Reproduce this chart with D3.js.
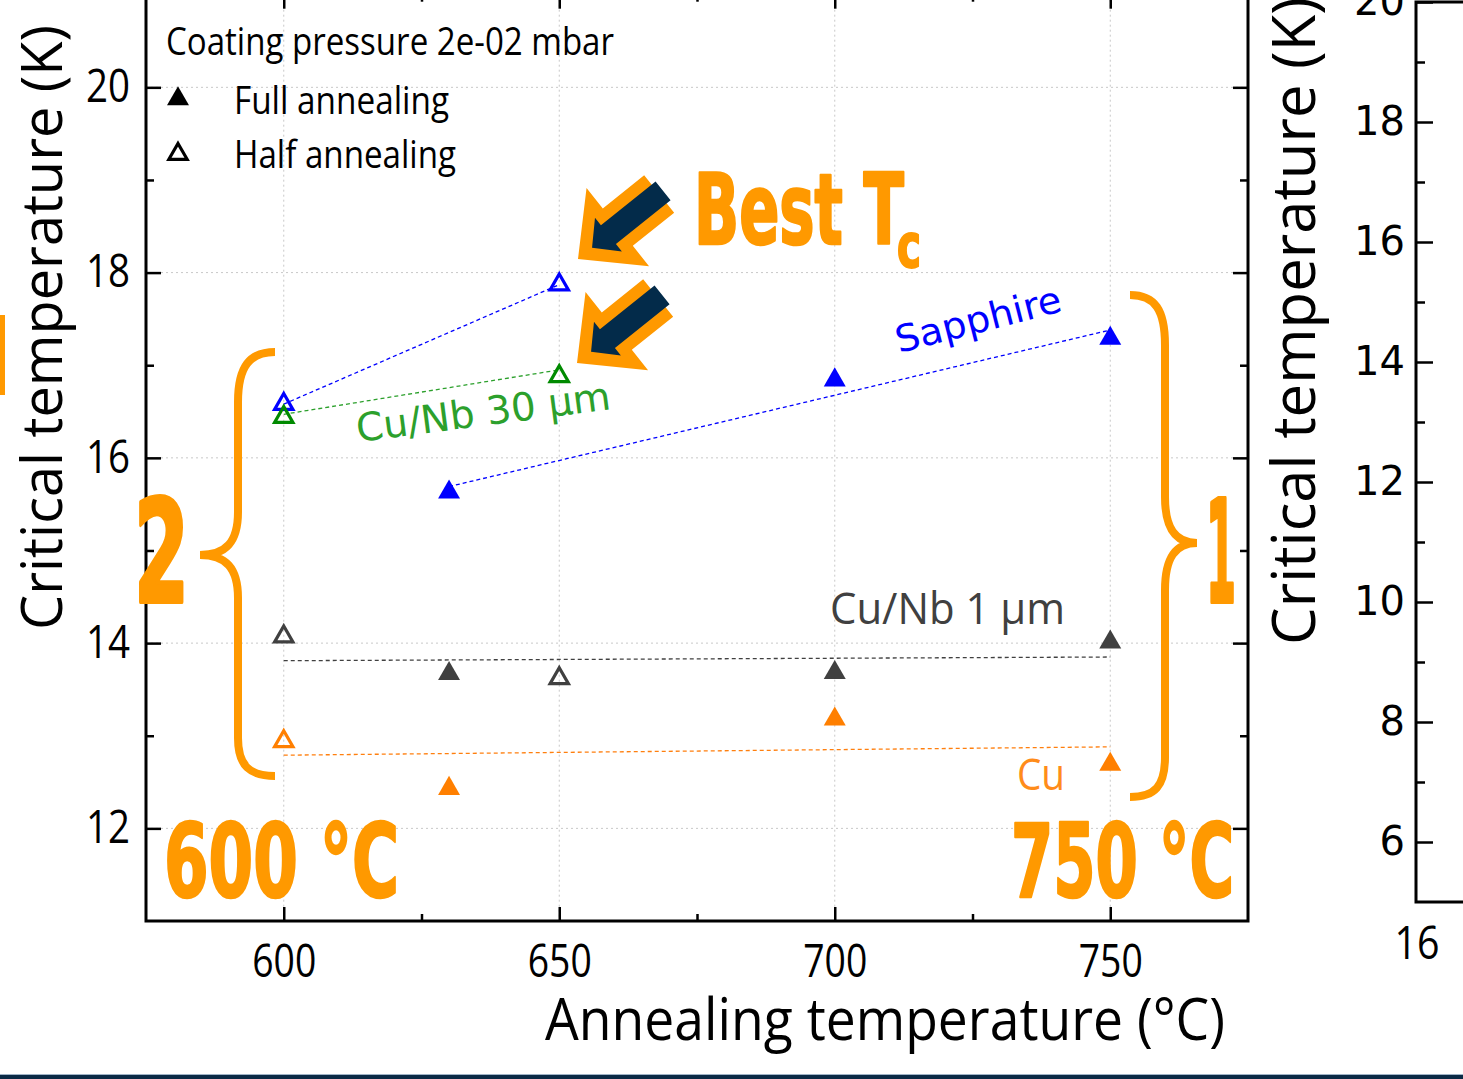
<!DOCTYPE html>
<html lang="en">
<head>
    <meta charset="UTF-8">
    <title>Critical temperature vs annealing temperature</title>
    <script src="https://d3js.org/d3.v7.min.js"></script>
    <style>
        body { margin: 0; background: #fff; }
        svg { display: block; }
    </style>
</head>
<body>
    <script>
        //SVG dimensions
        var w = 1463;
        var h = 1079;

        //Dataset: annealing temperature (°C) and critical temperature (K)
        var sapphireHalfT = [600, 650];
        var sapphireHalfTc = [16.58, 17.87];
        var sapphireFullT = [630, 700, 750];
        var sapphireFullTc = [15.63, 16.84, 17.29];
        var cuNb30HalfT = [600, 650];
        var cuNb30HalfTc = [16.44, 16.88];
        var cuNb1HalfT = [600, 650];
        var cuNb1HalfTc = [14.07, 13.62];
        var cuNb1FullT = [630, 700, 750];
        var cuNb1FullTc = [13.67, 13.68, 14.01];
        var cuHalfT = [600];
        var cuHalfTc = [12.94];
        var cuFullT = [630, 700, 750];
        var cuFullTc = [12.43, 13.18, 12.69];

        //Dashed trend lines (start, end)
        var sapphireHalfFitT = [600, 650];
        var sapphireHalfFitTc = [16.58, 17.87];
        var sapphireFullFitT = [630, 750];
        var sapphireFullFitTc = [15.69, 17.38];
        var cuNb30FitT = [600, 650];
        var cuNb30FitTc = [16.47, 16.95];
        var cuNb1FitT = [600, 750];
        var cuNb1FitTc = [13.81, 13.85];
        var cuFitT = [600, 750];
        var cuFitTc = [12.79, 12.88];

        //Ticks
        var xMajor = [600, 650, 700, 750];
        var xMinor = [625, 675, 725];
        var yMajor = [12, 14, 16, 18, 20];
        var yMinor = [13, 15, 17, 19];
        var y2Major = [6, 8, 10, 12, 14, 16, 18, 20];
        var y2Minor = [7, 9, 11, 13, 15, 17, 19];

        function zip(a, b) { return a.map(function(v, i) { return [v, b[i]]; }); }

        var svg = d3.select("body")
            .append("svg")
            .attr("width", w)
            .attr("height", h);

        //Scales of the main plot
        var xScale = d3.scaleLinear().domain([575, 775]).range([146, 1248]);
        var yScale = d3.scaleLinear().domain([11, 21]).range([921, -5.3]);
        //Scale of the cut-off plot on the right
        var y2Scale = d3.scaleLinear().domain([5, 20]).range([902, 2]);

        var sans = "'Open Sans', sans-serif";
        var dejavu = "'DejaVu Sans', sans-serif";
        var narrow = "'Liberation Sans Narrow', 'DejaVu Sans Condensed', sans-serif";
        var orange = "#ff9900";

        //Grid
        var grid = svg.append("g")
            .attr("stroke", "#c8c8c8")
            .attr("stroke-width", 1)
            .attr("stroke-dasharray", "2,3");
        grid.selectAll("line.gx").data(xMajor).enter().append("line")
            .attr("x1", function(d) { return xScale(d); })
            .attr("x2", function(d) { return xScale(d); })
            .attr("y1", yScale(21)).attr("y2", yScale(11));
        grid.selectAll("line.gy").data(yMajor).enter().append("line")
            .attr("y1", function(d) { return yScale(d); })
            .attr("y2", function(d) { return yScale(d); })
            .attr("x1", xScale(575)).attr("x2", xScale(775));

        //Axes with inward ticks
        function styleTicks(g, size) {
            g.select(".domain").remove();
            g.selectAll(".tick line").attr("stroke", "#000").attr("stroke-width", 2.5);
            g.selectAll("text").attr("fill", "#000").style("font-family", sans).style("font-size", size + "px");
        }

        var gx = svg.append("g").attr("transform", "translate(0," + yScale(11) + ")")
            .call(d3.axisBottom(xScale).tickValues(xMajor).tickSize(-14).tickSizeOuter(0).tickPadding(24));
        styleTicks(gx, 45);
        gx.selectAll("text").attr("textLength", 64).attr("lengthAdjust", "spacingAndGlyphs");
        var gxm = svg.append("g").attr("transform", "translate(0," + yScale(11) + ")")
            .call(d3.axisBottom(xScale).tickValues(xMinor).tickSize(-7).tickFormat(""));
        styleTicks(gxm, 45);

        var gxt = svg.append("g").attr("transform", "translate(0," + yScale(21) + ")")
            .call(d3.axisTop(xScale).tickValues(xMajor).tickSize(-14).tickFormat(""));
        styleTicks(gxt, 45);
        var gxtm = svg.append("g").attr("transform", "translate(0," + yScale(21) + ")")
            .call(d3.axisTop(xScale).tickValues(xMinor).tickSize(-7).tickFormat(""));
        styleTicks(gxtm, 45);

        var gy = svg.append("g").attr("transform", "translate(" + xScale(575) + ",0)")
            .call(d3.axisLeft(yScale).tickValues(yMajor).tickSize(-15).tickPadding(16));
        styleTicks(gy, 45);
        gy.selectAll("text").attr("textLength", 44).attr("lengthAdjust", "spacingAndGlyphs");
        var gym = svg.append("g").attr("transform", "translate(" + xScale(575) + ",0)")
            .call(d3.axisLeft(yScale).tickValues(yMinor).tickSize(-8).tickFormat(""));
        styleTicks(gym, 45);

        var gyr = svg.append("g").attr("transform", "translate(" + xScale(775) + ",0)")
            .call(d3.axisRight(yScale).tickValues(yMajor).tickSize(-15).tickFormat(""));
        styleTicks(gyr, 45);
        var gyrm = svg.append("g").attr("transform", "translate(" + xScale(775) + ",0)")
            .call(d3.axisRight(yScale).tickValues(yMinor).tickSize(-8).tickFormat(""));
        styleTicks(gyrm, 45);

        //Frame
        svg.append("rect")
            .attr("x", xScale(575)).attr("y", yScale(21))
            .attr("width", xScale(775) - xScale(575))
            .attr("height", yScale(11) - yScale(21))
            .attr("fill", "none").attr("stroke", "#000").attr("stroke-width", 3);

        //Axis titles
        svg.append("text")
            .attr("x", 545).attr("y", 1040)
            .attr("textLength", 680).attr("lengthAdjust", "spacingAndGlyphs")
            .style("font-family", sans).style("font-size", "58px")
            .text("Annealing temperature (°C)");
        svg.append("text")
            .attr("transform", "translate(62,630) rotate(-90)")
            .attr("textLength", 605).attr("lengthAdjust", "spacingAndGlyphs")
            .style("font-family", sans).style("font-size", "56px")
            .text("Critical temperature (K)");

        //Dashed trend lines
        var line = d3.line()
            .x(function(d) { return xScale(d[0]); })
            .y(function(d) { return yScale(d[1]); });
        var fits = [
            { pts: zip(sapphireHalfFitT, sapphireHalfFitTc), c: "#0000ff" },
            { pts: zip(sapphireFullFitT, sapphireFullFitTc), c: "#0000ff" },
            { pts: zip(cuNb30FitT, cuNb30FitTc), c: "#2ca02c" },
            { pts: zip(cuNb1FitT, cuNb1FitTc), c: "#404040" },
            { pts: zip(cuFitT, cuFitTc), c: "#ff7f0e" }
        ];
        svg.selectAll("path.fit").data(fits).enter().append("path")
            .attr("class", "fit")
            .attr("d", function(d) { return line(d.pts); })
            .attr("fill", "none")
            .attr("stroke", function(d) { return d.c; })
            .attr("stroke-width", 1.3)
            .attr("stroke-dasharray", "4,3");

        //Markers
        var fullTri = d3.symbol().type(d3.symbolTriangle).size(209);
        var halfTri = d3.symbol().type(d3.symbolTriangle).size(145);
        var series = [
            { pts: zip(sapphireFullT, sapphireFullTc), c: "#0000ff", full: true },
            { pts: zip(cuNb1FullT, cuNb1FullTc), c: "#404040", full: true },
            { pts: zip(cuFullT, cuFullTc), c: "#ff7f00", full: true },
            { pts: zip(cuNb1HalfT, cuNb1HalfTc), c: "#404040", full: false },
            { pts: zip(cuHalfT, cuHalfTc), c: "#ff7f00", full: false },
            { pts: zip(sapphireHalfT, sapphireHalfTc), c: "#0000ff", full: false },
            { pts: zip(cuNb30HalfT, cuNb30HalfTc), c: "#008a00", full: false }
        ];
        series.forEach(function(s) {
            svg.selectAll(null).data(s.pts).enter().append("path")
                .attr("transform", function(d) { return "translate(" + xScale(d[0]) + "," + yScale(d[1]) + ")"; })
                .attr("d", s.full ? fullTri() : halfTri())
                .attr("fill", s.full ? s.c : "none")
                .attr("stroke", s.full ? "none" : s.c)
                .attr("stroke-width", 3.2);
        });

        //Legend
        svg.append("text").attr("x", 166).attr("y", 55)
            .attr("textLength", 448).attr("lengthAdjust", "spacingAndGlyphs")
            .style("font-family", sans).style("font-size", "39px")
            .text("Coating pressure 2e-02 mbar");
        svg.append("path").attr("transform", "translate(178,99)").attr("d", fullTri()).attr("fill", "#000");
        svg.append("text").attr("x", 234).attr("y", 114)
            .attr("textLength", 215).attr("lengthAdjust", "spacingAndGlyphs")
            .style("font-family", sans).style("font-size", "39px")
            .text("Full annealing");
        svg.append("path").attr("transform", "translate(178,154)").attr("d", halfTri())
            .attr("fill", "none").attr("stroke", "#000").attr("stroke-width", 3.2);
        svg.append("text").attr("x", 234).attr("y", 168)
            .attr("textLength", 222).attr("lengthAdjust", "spacingAndGlyphs")
            .style("font-family", sans).style("font-size", "39px")
            .text("Half annealing");

        //Series labels
        svg.append("text")
            .attr("transform", "translate(899,353) rotate(-14.3)")
            .attr("textLength", 170).attr("lengthAdjust", "spacingAndGlyphs")
            .attr("fill", "#0000ff").style("font-family", dejavu).style("font-size", "37px")
            .text("Sapphire");
        svg.append("text")
            .attr("transform", "translate(358,442) rotate(-7.4)")
            .attr("textLength", 256).attr("lengthAdjust", "spacingAndGlyphs")
            .attr("fill", "#2ca02c").style("font-family", dejavu).style("font-size", "39px")
            .text("Cu/Nb 30 µm");
        svg.append("text").attr("x", 830).attr("y", 624)
            .attr("textLength", 235).attr("lengthAdjust", "spacingAndGlyphs")
            .attr("fill", "#404040").style("font-family", sans).style("font-size", "44px")
            .text("Cu/Nb 1 µm");
        svg.append("text").attr("x", 1017).attr("y", 790)
            .attr("textLength", 48).attr("lengthAdjust", "spacingAndGlyphs")
            .attr("fill", "#ff8c1a").style("font-family", sans).style("font-size", "44px")
            .text("Cu");

        //Braces
        var braces = [
            "M275,352 C250,352 238,366 238,402 L238,512 C238,542 226,555 200,555 C226,555 238,568 238,598 L238,738 C238,766 250,776 275,776",
            "M1130,295 C1155,295 1165,310 1165,345 L1165,497 C1165,528 1175,543 1197,543 C1175,543 1165,558 1165,590 L1165,757 C1165,786 1155,797 1130,797"
        ];
        svg.selectAll("path.brace").data(braces).enter().append("path")
            .attr("d", function(d) { return d; })
            .attr("fill", "none").attr("stroke", orange).attr("stroke-width", 8);

        //Arrows pointing at best Tc
        function arrowPts(tip, len, hl, hh, sh) {
            return [[tip, 0], [tip - hl, hh], [tip - hl, sh], [tip - len, sh],
                    [tip - len, -sh], [tip - hl, -sh], [tip - hl, -hh]];
        }
        var arrowTips = [[578, 259], [577, 363]];
        arrowTips.forEach(function(t) {
            var g = svg.append("g").attr("transform", "translate(" + t[0] + "," + t[1] + ") rotate(141.3)");
            g.append("polygon").attr("points", arrowPts(0, 104, 51, 50, 24).join(" ")).attr("fill", orange);
            g.append("polygon").attr("points", arrowPts(-18, 91, 21, 21.5, 12).join(" ")).attr("fill", "#032b4a");
        });

        //Big orange annotations
        function bigText(x, y, len, size, str, sw) {
            return svg.append("text").attr("x", x).attr("y", y)
                .attr("textLength", len).attr("lengthAdjust", "spacingAndGlyphs")
                .attr("fill", orange).attr("stroke", orange).attr("stroke-width", sw)
                .attr("stroke-linejoin", "round")
                .style("font-family", narrow)
                .style("font-weight", "bold").style("font-size", size + "px")
                .text(str);
        }
        bigText(694, 244, 210, 98, "Best T", 2.5);
        bigText(897, 267, 24, 60, "c", 2);
        bigText(164, 897, 235, 102, "600 °C", 2.5);
        bigText(1011, 897, 223, 102, "750 °C", 2.5);
        bigText(134, 602, 55, 142, "2", 4);
        bigText(1206, 602, 30, 142, "1", 4);

        //Orange fragment at the left edge
        svg.append("rect").attr("x", 0).attr("y", 315).attr("width", 5).attr("height", 80).attr("fill", orange);

        //Right, cut-off plot
        var g2 = svg.append("g").attr("transform", "translate(1416,0)")
            .call(d3.axisLeft(y2Scale).tickValues(y2Major).tickSize(-17).tickPadding(11));
        g2.select(".domain").remove();
        g2.selectAll(".tick line").attr("stroke", "#000").attr("stroke-width", 2.5);
        g2.selectAll("text").attr("fill", "#000").style("font-family", dejavu).style("font-size", "40px");
        var g2m = svg.append("g").attr("transform", "translate(1416,0)")
            .call(d3.axisLeft(y2Scale).tickValues(y2Minor).tickSize(-9).tickFormat(""));
        g2m.select(".domain").remove();
        g2m.selectAll(".tick line").attr("stroke", "#000").attr("stroke-width", 2.5);
        svg.append("path")
            .attr("d", "M1463," + y2Scale(20) + " L1416," + y2Scale(20) + " L1416," + y2Scale(5) + " L1463," + y2Scale(5))
            .attr("fill", "none").attr("stroke", "#000").attr("stroke-width", 3);
        svg.append("text").attr("x", 1417).attr("y", 959)
            .attr("text-anchor", "middle")
            .attr("textLength", 45).attr("lengthAdjust", "spacingAndGlyphs")
            .style("font-family", sans).style("font-size", "45px")
            .text("16");
        svg.append("text")
            .attr("transform", "translate(1315,645) rotate(-90)")
            .attr("textLength", 648).attr("lengthAdjust", "spacingAndGlyphs")
            .style("font-family", sans).style("font-size", "61px")
            .text("Critical temperature (K)");

        //Bottom band
        svg.append("rect").attr("x", 0).attr("y", 1074).attr("width", w).attr("height", 1).attr("fill", "#9fb3c6");
        svg.append("rect").attr("x", 0).attr("y", 1075).attr("width", w).attr("height", 4).attr("fill", "#0b2a45");
    </script>
</body>
</html>
